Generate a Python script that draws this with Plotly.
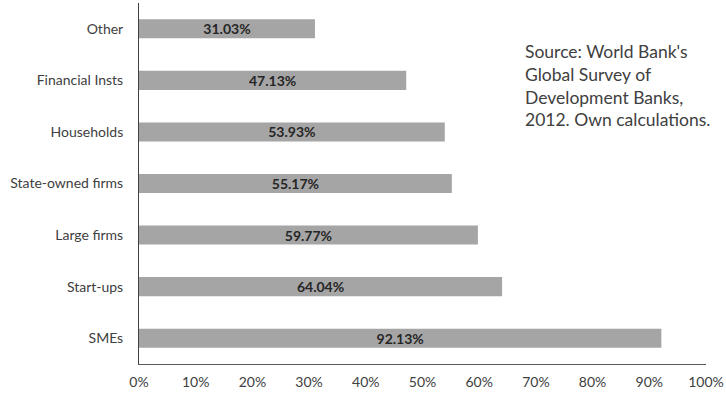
import plotly.graph_objects as go

categories = ["SMEs", "Start-ups", "Large firms", "State-owned firms", "Households", "Financial Insts", "Other"]
values = [0.9213, 0.6404, 0.5977, 0.5517, 0.5393, 0.4713, 0.3103]
labels = ["92.13%", "64.04%", "59.77%", "55.17%", "53.93%", "47.13%", "31.03%"]
tick_vals = [0, 0.1, 0.2, 0.3, 0.4, 0.5, 0.6, 0.7, 0.8, 0.9, 1.0]
tick_text = ["0%", "10%", "20%", "30%", "40%", "50%", "60%", "70%", "80%", "90%", "100%"]
source_note = "Source: World Bank's<br>Global Survey of<br>Development Banks,<br>2012. Own calculations."

FONT = "Lato"

fig = go.Figure(go.Bar(
    x=values, y=categories, orientation="h",
    marker=dict(color="#A5A5A5", line=dict(width=0)),
    text=["<b>%s</b>" % t for t in labels],
    textposition="inside", insidetextanchor="middle",
    textfont=dict(family=FONT, size=14, color="#262626"),
    hoverinfo="skip",
))

fig.update_layout(
    width=726, height=395,
    margin=dict(l=139, r=20, t=3, b=31, autoexpand=False),
    paper_bgcolor="white", plot_bgcolor="white",
    bargap=0.63,
    showlegend=False,
    font=dict(family=FONT, size=14, color="#404040"),
    uniformtext=dict(minsize=12, mode="show"),
)
fig.update_xaxes(
    range=[0, 1.0], tickvals=tick_vals, ticktext=tick_text,
    showgrid=False, zeroline=False,
    showline=True, linecolor="#595959", linewidth=1,
    ticks="", tickfont=dict(family=FONT, size=14, color="#404040"),
    ticklabelstandoff=5, automargin=False,
)
fig.update_yaxes(
    showgrid=False, zeroline=False,
    showline=True, linecolor="#404040", linewidth=1,
    ticks="", tickfont=dict(family=FONT, size=14, color="#404040"),
    ticklabelstandoff=12, automargin=False,
)
fig.add_annotation(
    text=source_note, xref="paper", yref="paper",
    x=0.677, y=0.90, xanchor="left", yanchor="top", align="left",
    showarrow=False, font=dict(family=FONT, size=17.5, color="#404040"),
)

fig.write_html(
    "out.html",
    config={"displayModeBar": False},
    post_script="document.body.style.margin='0';document.body.style.overflow='hidden';",
)
